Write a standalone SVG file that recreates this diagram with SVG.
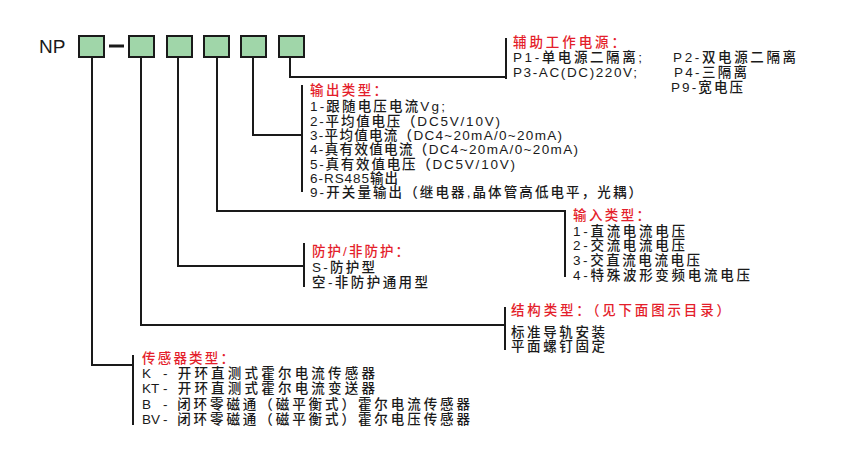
<svg xmlns="http://www.w3.org/2000/svg" width="852" height="462" viewBox="0 0 852 462">
<style>
text{font-family:"Liberation Sans","Noto Sans CJK SC",sans-serif;font-size:13.5px;font-weight:500;fill:#1a1a1a}
text.h{fill:#e41e2b}
.box{fill:#a0d6a9;stroke:#1a1a1a;stroke-width:2}
.ln{fill:none;stroke:#1a1a1a;stroke-width:2}
</style>
<rect width="852" height="462" fill="#fff"/>
<g id="code">
<text x="39" y="53" style="font-size:19px;font-weight:400">NP</text>
<rect class="box" x="79" y="36" width="25" height="21"/>
<line class="ln" x1="109" y1="46" x2="124" y2="46" style="stroke-width:3"/>
<rect class="box" x="129" y="36" width="25" height="21"/>
<rect class="box" x="167" y="36" width="25" height="21"/>
<rect class="box" x="204" y="36" width="25" height="21"/>
<rect class="box" x="241" y="36" width="25" height="21"/>
<rect class="box" x="279" y="36" width="25" height="21"/>
</g>
<g id="connectors">
<polyline class="ln" points="290,58 290,77 506,77"/>
<line class="ln" x1="506" y1="38" x2="506" y2="79"/>
<polyline class="ln" points="253,58 253,135 302,135"/>
<line class="ln" x1="302" y1="85" x2="302" y2="192"/>
<polyline class="ln" points="217,58 217,211 565,211"/>
<line class="ln" x1="565" y1="210" x2="565" y2="277"/>
<polyline class="ln" points="178,58 178,266 304,266"/>
<line class="ln" x1="304" y1="243" x2="304" y2="287"/>
<polyline class="ln" points="141,58 141,325 505,325"/>
<line class="ln" x1="505" y1="307" x2="505" y2="350"/>
<polyline class="ln" points="92,58 92,365 133,365"/>
<line class="ln" x1="133" y1="355" x2="133" y2="425"/>
</g>
<g id="power">
<text class="h" x="513" y="47" textLength="112" lengthAdjust="spacing">辅助工作电源：</text>
<text x="513" y="62" textLength="129" lengthAdjust="spacing">P1-单电源二隔离;</text>
<text x="673" y="62" textLength="123" lengthAdjust="spacing">P2-双电源二隔离</text>
<text x="513" y="77" textLength="124" lengthAdjust="spacing">P3-AC(DC)220V;</text>
<text x="674" y="77" textLength="73" lengthAdjust="spacing">P4-三隔离</text>
<text x="671" y="92" textLength="72" lengthAdjust="spacing">P9-宽电压</text>
</g>
<g id="output">
<text class="h" x="310" y="95" textLength="77" lengthAdjust="spacing">输出类型：</text>
<text x="310" y="111" textLength="135" lengthAdjust="spacing">1-跟随电压电流Vg;</text>
<text x="310" y="125.5" textLength="190" lengthAdjust="spacing">2-平均值电压（DC5V/10V)</text>
<text x="310" y="140" textLength="252" lengthAdjust="spacing">3-平均值电流（DC4~20mA/0~20mA)</text>
<text x="310" y="154" textLength="268" lengthAdjust="spacing">4-真有效值电流（DC4~20mA/0~20mA)</text>
<text x="310" y="168.5" textLength="205" lengthAdjust="spacing">5-真有效值电压（DC5V/10V)</text>
<text x="310" y="183" textLength="88" lengthAdjust="spacing">6-RS485输出</text>
<text x="310" y="197" textLength="332" lengthAdjust="spacing">9-开关量输出（继电器,晶体管高低电平，光耦）</text>
</g>
<g id="input">
<text class="h" x="573" y="220" textLength="77" lengthAdjust="spacing">输入类型：</text>
<text x="573" y="236" textLength="112" lengthAdjust="spacing">1-直流电流电压</text>
<text x="573" y="250" textLength="112" lengthAdjust="spacing">2-交流电流电压</text>
<text x="573" y="265" textLength="127" lengthAdjust="spacing">3-交直流电流电压</text>
<text x="573" y="280" textLength="177" lengthAdjust="spacing">4-特殊波形变频电流电压</text>
</g>
<g id="protection">
<text class="h" x="312" y="256" textLength="97" lengthAdjust="spacing">防护/非防护：</text>
<text x="312" y="272" textLength="63" lengthAdjust="spacing">S-防护型</text>
<text x="312" y="287" textLength="116" lengthAdjust="spacing">空-非防护通用型</text>
</g>
<g id="structure">
<text class="h" x="511" y="315" textLength="219" lengthAdjust="spacing">结构类型：（见下面图示目录）</text>
<text x="511" y="337" textLength="94" lengthAdjust="spacing">标准导轨安装</text>
<text x="511" y="351" textLength="94" lengthAdjust="spacing">平面螺钉固定</text>
</g>
<g id="sensor">
<text class="h" x="142" y="363" textLength="92" lengthAdjust="spacing">传感器类型：</text>
<text x="142" y="378">K</text>
<text x="163" y="378" textLength="212" lengthAdjust="spacing">- 开环直测式霍尔电流传感器</text>
<text x="142" y="393">KT</text>
<text x="163" y="393" textLength="212" lengthAdjust="spacing">- 开环直测式霍尔电流变送器</text>
<text x="142" y="409">B</text>
<text x="163" y="409" textLength="307" lengthAdjust="spacing">- 闭环零磁通（磁平衡式）霍尔电流传感器</text>
<text x="142" y="424">BV</text>
<text x="163" y="424" textLength="307" lengthAdjust="spacing">- 闭环零磁通（磁平衡式）霍尔电压传感器</text>
</g>
</svg>
